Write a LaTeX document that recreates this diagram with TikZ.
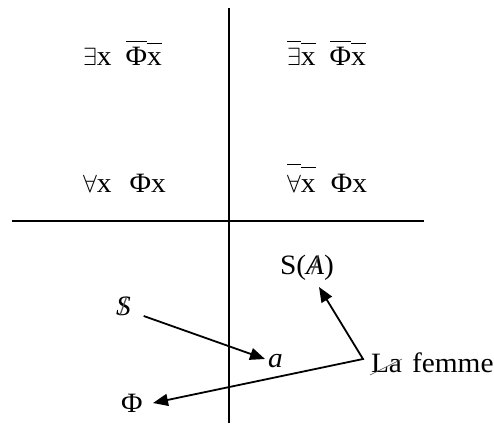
\documentclass[tikz,border=0pt]{standalone}
\usepackage{fontspec}
\setmainfont[FakeStretch=1.05]{Liberation Serif}
\usetikzlibrary{arrows.meta}
\newcommand\ovl[2]{\setbox0\hbox{#2}\rlap{\rule[#1]{\wd0}{0.05em}}\box0}
\newcommand\slsh[1]{\ooalign{#1\cr\hss\textcolor{black!70}{/}\hss}}
\begin{document}
\begin{tikzpicture}[x=1pt,y=-1pt,
  txt/.style={inner sep=0pt, outer sep=0pt, anchor=base west, font=\fontsize{28}{32}\selectfont},
  axis/.style={line width=2pt},
  arr/.style={line width=1.8pt, -{Triangle[length=15pt,width=12pt]}}]
\useasboundingbox (0,0) rectangle (494,423);

\coordinate (vt) at (229,8);
\coordinate (vb) at (229,423);
\coordinate (hl) at (12,221);
\coordinate (hr) at (424,221);
\draw[axis] (vt) -- (vb);
\draw[axis] (hl) -- (hr);

\node[txt] (q1) at (83,65) {$\exists$x\hspace{0.5em}\ovl{0.82em}{Φ}\ovl{0.75em}{x}};
\node[txt] (q2) at (287,65) {\ovl{0.82em}{$\exists$}\ovl{0.75em}{x}\hspace{0.5em}\ovl{0.82em}{Φ}\ovl{0.75em}{x}};
\node[txt] (q3) at (83,192) {$\forall$x\hspace{0.65em}Φx};
\node[txt] (q4) at (287,192) {\ovl{0.95em}{$\forall$}\ovl{0.85em}{x}\hspace{0.55em}Φx};

\node[txt] (sa) at (280,274) {S(\slsh{\textit{A}})};
\node[txt] (sb) at (116,315) {\slsh{\textit{S}}};
\node[txt] (a) at (268,367) {\textit{a}};
\node[txt] (la) at (371,372) {La};
\node[txt] (fe) at (412,372) {femme};
\node[txt] (phi) at (121,412) {Φ};

\draw[line width=0.6pt, black!70] ([shift={(-1,3)}]la.base west) -- ([shift={(0,-13)}]la.base east);

\coordinate (v) at ([shift={(-8,-13)}]la.base west);
\draw[arr] ([shift={(13,1)}]sb.base east) -- ([shift={(-3,-8)}]a.base west);
\draw[line width=1.8pt, line join=miter, {Triangle[length=15pt,width=12pt]}-{Triangle[length=15pt,width=12pt]}]
  ([shift={(39,13)}]sa.base west) -- (v) -- ([shift={(32,-9)}]phi.base west);
\end{tikzpicture}
\end{document}
